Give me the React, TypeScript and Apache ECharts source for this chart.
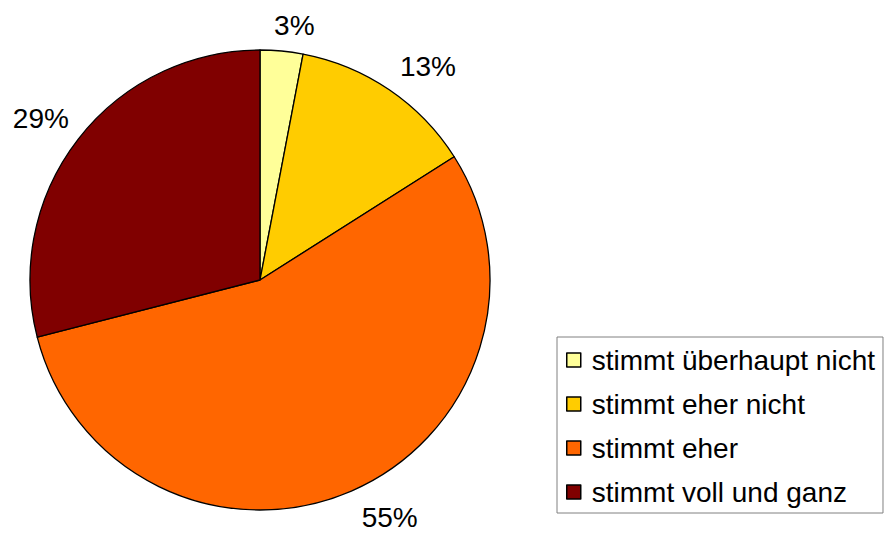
import React, { useEffect, useRef } from "react";
import * as echarts from "echarts";

const categories = [
  "stimmt überhaupt nicht",
  "stimmt eher nicht",
  "stimmt eher",
  "stimmt voll und ganz",
];
const values = [3, 13, 55, 29];
const colors = ["#FFFF99", "#FFCC00", "#FF6600", "#800000"];
const labelDistances = [26, 26, 31, 22];
const labelDx = [-15, -9, -7, 13];
const labelDy = [0, -2, -2, -7];

export default function App() {
  const ref = useRef<HTMLDivElement>(null);
  useEffect(() => {
    if (!ref.current) return;
    document.body.style.margin = "0";
    const chart = echarts.init(ref.current, null, { renderer: "svg" });
    const font = "'Liberation Sans', Arial, sans-serif";
    chart.setOption({
      animation: false,
      backgroundColor: "#ffffff",
      legend: {
        orient: "vertical",
        left: 557,
        top: 337,
        data: categories,
        icon: "rect",
        itemWidth: 14,
        itemHeight: 14,
        itemGap: 16,
        padding: [9, 8, 7, 9],
        borderColor: "#808080",
        borderWidth: 1,
        textStyle: {
          fontFamily: font,
          fontSize: 28,
          color: "#000000",
          padding: [0, 0, 0, 6],
        },
        itemStyle: { borderColor: "#000000", borderWidth: 1.5 },
      },
      series: [
        {
          type: "pie",
          center: [260, 280],
          radius: 230,
          startAngle: 90,
          clockwise: true,
          avoidLabelOverlap: false,
          itemStyle: { borderColor: "#000000", borderWidth: 1.3 },
          label: {
            show: true,
            position: "outside",
            formatter: "{c}%",
            fontFamily: font,
            fontSize: 28,
            color: "#000000",
          },
          labelLine: { show: false, length: 25, length2: 0 },
          labelLayout: (p: any) => ({
            dx: labelDx[p.dataIndex],
            dy: labelDy[p.dataIndex],
          }),
          emphasis: { disabled: true },
          data: categories.map((name, i) => ({
            name,
            value: values[i],
            itemStyle: { color: colors[i] },
            labelLine: { show: false, length: labelDistances[i], length2: 0 },
          })),
        },
      ],
    });
    return () => chart.dispose();
  }, []);
  return <div ref={ref} style={{ width: 884, height: 533 }} />;
}
